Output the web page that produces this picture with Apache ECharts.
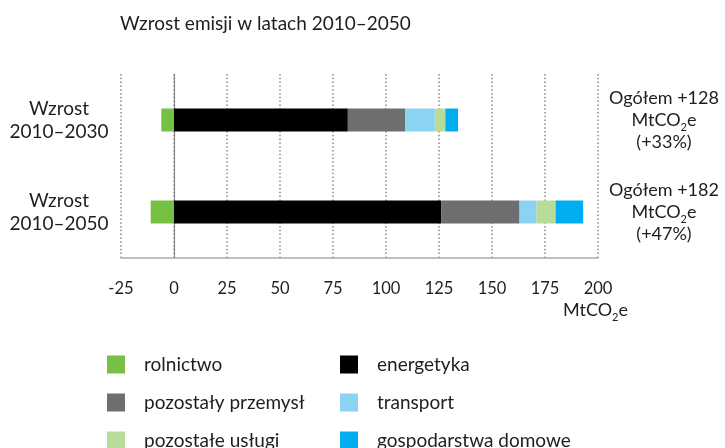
<!DOCTYPE html>
<html>
<head>
<meta charset="utf-8">
<script src="https://cdn.jsdelivr.net/npm/echarts@6/dist/echarts.min.js"></script>
<style>
  html, body { margin: 0; padding: 0; background: #fff; }
  #chart { width: 725px; height: 448px; }
</style>
</head>
<body>
<div id="chart"></div>
<script>
// kategorie (od góry)
const categories = ["Wzrost\n2010–2030", "Wzrost\n2010–2050"];
const totals = ["+128", "+182"];
const percents = ["(+33%)", "(+47%)"];

// MtCO2e
const rolnictwo = [-6, -11];
const energetyka = [82, 126];
const przemysl = [27, 37];
const transport = [14, 8];
const uslugi = [5, 9];
const gospodarstwa = [6, 13];

const xTicks = [-25, 0, 25, 50, 75, 100, 125, 150, 175, 200];

const FONT = "Lato";
const TXT = "#1e1e1e";

const seriesDefs = [
  { name: "rolnictwo", data: rolnictwo, color: "#76c043" },
  { name: "energetyka", data: energetyka, color: "#000000" },
  { name: "pozostały przemysł", data: przemysl, color: "#6d6e70" },
  { name: "transport", data: transport, color: "#8ad3f3" },
  { name: "pozostałe usługi", data: uslugi, color: "#b7dc9a" },
  { name: "gospodarstwa domowe", data: gospodarstwa, color: "#00aeef" }
];

const rightLabels = categories.map((c, i) =>
  "{a|Ogółem " + totals[i] + "}\n{a|MtCO}{s|2}{a|e}\n{a|" + percents[i] + "}"
);

const legendCommon = {
  orient: "vertical",
  icon: "rect",
  itemWidth: 18,
  itemHeight: 18,
  itemGap: 19,
  padding: 0,
  height: 100,
  selectedMode: false,
  textStyle: { fontFamily: FONT, fontSize: 19, color: TXT, padding: [0, 0, 0, 14] }
};

const chart = echarts.init(document.getElementById("chart"));
chart.setOption({
  animation: false,
  textStyle: { fontFamily: FONT },
  title: {
    text: "Wzrost emisji w latach 2010–2050",
    left: 115,
    top: 9,
    textStyle: { fontFamily: FONT, fontSize: 19, fontWeight: "normal", color: TXT }
  },
  legend: [
    Object.assign({ left: 107, top: 355, data: ["rolnictwo", "pozostały przemysł", "pozostałe usługi"] }, legendCommon),
    Object.assign({ left: 340, top: 355, data: ["energetyka", "transport", "gospodarstwa domowe"] }, legendCommon)
  ],
  grid: { left: 121, right: 127, top: 74, height: 184 },
  xAxis: {
    type: "value",
    min: -25,
    max: 200,
    interval: 25,
    axisLine: { show: true, lineStyle: { color: "#aaaaaa", width: 1.5 } },
    axisTick: { show: false },
    axisLabel: {
      margin: 22,
      fontFamily: FONT,
      fontSize: 16.5,
      color: TXT,
      formatter: v => (xTicks.indexOf(v) >= 0 ? String(v) : "")
    },
    splitLine: { show: true, lineStyle: { color: "#8a8a8a", width: 1.5, type: [1.5, 2.3] } }
  },
  yAxis: [
    {
      type: "category",
      data: categories,
      inverse: true,
      axisLine: { show: true, onZero: true, lineStyle: { color: "#888888", width: 1.2 } },
      axisTick: { show: false },
      axisLabel: {
        align: "center",
        margin: 62,
        fontFamily: FONT,
        fontSize: 19,
        lineHeight: 23,
        color: TXT
      }
    },
    {
      type: "category",
      data: rightLabels,
      inverse: true,
      position: "right",
      axisLine: { show: false },
      axisTick: { show: false },
      axisLabel: {
        align: "center",
        margin: 66,
        formatter: v => v,
        rich: {
          a: { fontFamily: FONT, fontSize: 18, color: TXT, lineHeight: 22 },
          s: { fontFamily: FONT, fontSize: 11, color: TXT, lineHeight: 22, padding: [14, 0, 0, 0] }
        }
      }
    }
  ],
  graphic: [
    {
      type: "text",
      left: 563,
      top: 298,
      style: {
        text: "{a|MtCO}{s|2}{a|e}",
        rich: {
          a: { fontFamily: FONT, fontSize: 18, fill: TXT, lineHeight: 22 },
          s: { fontFamily: FONT, fontSize: 11, fill: TXT, lineHeight: 22, padding: [14, 0, 0, 0] }
        }
      }
    }
  ],
  series: seriesDefs.map(s => ({
    name: s.name,
    type: "bar",
    stack: "total",
    barWidth: 23,
    data: s.data,
    itemStyle: { color: s.color },
    emphasis: { disabled: true }
  }))
});
</script>
</body>
</html>
